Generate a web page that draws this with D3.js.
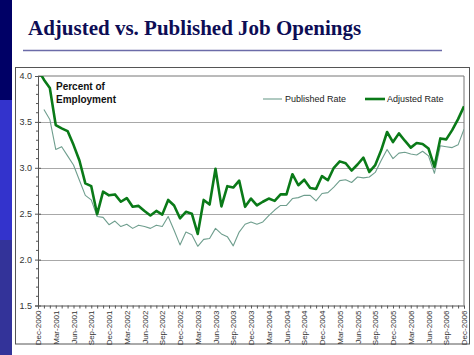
<!DOCTYPE html>
<html><head><meta charset="utf-8">
<script src="https://cdn.jsdelivr.net/npm/d3@7/dist/d3.min.js"></script>
<style>html,body{margin:0;padding:0;background:#fff;}svg{display:block;}</style>
</head><body>
<svg id="c" width="474" height="355"></svg>
<script>
const months = ["Dec-2000","Jan-2001","Feb-2001","Mar-2001","Apr-2001","May-2001","Jun-2001","Jul-2001","Aug-2001","Sep-2001","Oct-2001","Nov-2001",
"Dec-2001","Jan-2002","Feb-2002","Mar-2002","Apr-2002","May-2002","Jun-2002","Jul-2002","Aug-2002","Sep-2002","Oct-2002","Nov-2002",
"Dec-2002","Jan-2003","Feb-2003","Mar-2003","Apr-2003","May-2003","Jun-2003","Jul-2003","Aug-2003","Sep-2003","Oct-2003","Nov-2003",
"Dec-2003","Jan-2004","Feb-2004","Mar-2004","Apr-2004","May-2004","Jun-2004","Jul-2004","Aug-2004","Sep-2004","Oct-2004","Nov-2004",
"Dec-2004","Jan-2005","Feb-2005","Mar-2005","Apr-2005","May-2005","Jun-2005","Jul-2005","Aug-2005","Sep-2005","Oct-2005","Nov-2005",
"Dec-2005","Jan-2006","Feb-2006","Mar-2006","Apr-2006","May-2006","Jun-2006","Jul-2006","Aug-2006","Sep-2006","Oct-2006","Nov-2006","Dec-2006"];
const labeledMonths = ["Dec-2000","Mar-2001","Jun-2001","Sep-2001","Dec-2001","Mar-2002","Jun-2002","Sep-2002","Dec-2002","Mar-2003","Jun-2003","Sep-2003",
"Dec-2003","Mar-2004","Jun-2004","Sep-2004","Dec-2004","Mar-2005","Jun-2005","Sep-2005","Dec-2005","Mar-2006","Jun-2006","Sep-2006","Dec-2006"];
const published = [null,3.636,3.527,3.20,3.23,3.13,3.03,2.865,2.70,2.65,2.47,2.46,
2.38,2.42,2.36,2.385,2.34,2.375,2.36,2.34,2.375,2.36,2.47,2.32,
2.16,2.30,2.27,2.145,2.22,2.23,2.34,2.28,2.25,2.15,2.30,2.385,
2.41,2.385,2.41,2.48,2.54,2.59,2.59,2.665,2.675,2.70,2.70,2.64,
2.72,2.73,2.79,2.86,2.87,2.84,2.90,2.89,2.90,2.95,3.08,3.20,
3.10,3.16,3.17,3.15,3.14,3.18,3.13,2.94,3.24,3.23,3.22,3.25,3.42];
const adjusted = [4.07,3.96,3.87,3.465,3.43,3.40,3.25,3.08,2.83,2.80,2.495,2.74,
2.70,2.71,2.63,2.67,2.575,2.585,2.53,2.48,2.53,2.49,2.65,2.59,
2.45,2.52,2.50,2.28,2.65,2.60,2.99,2.58,2.80,2.785,2.86,2.575,
2.665,2.59,2.63,2.665,2.64,2.71,2.71,2.93,2.81,2.87,2.78,2.77,
2.91,2.865,3.00,3.07,3.05,2.97,3.036,3.11,2.955,3.03,3.19,3.39,
3.28,3.375,3.295,3.22,3.27,3.26,3.21,3.01,3.32,3.31,3.41,3.53,3.67];
const yTicks = [1.5,2.0,2.5,3.0,3.5,4.0];
const gridVals = [2.0,2.5,3.0,3.5];

const svg = d3.select("#c");
const font = "Liberation Sans, Arial, sans-serif";

// slide decoration
svg.append("rect").attr("x",0).attr("y",0).attr("width",12).attr("height",100).attr("fill","#000066");
svg.append("rect").attr("x",0).attr("y",100).attr("width",12).attr("height",140).attr("fill","#3333cc");
svg.append("rect").attr("x",0).attr("y",240).attr("width",12).attr("height",115).attr("fill","#333399");

svg.append("text").attr("x",28).attr("y",35)
  .attr("font-family","Liberation Serif, 'Times New Roman', serif").attr("font-weight","bold")
  .attr("font-size",21).attr("fill","#0d0d55").text("Adjusted vs. Published Job Openings");
svg.append("line").attr("x1",23).attr("x2",442).attr("y1",50.5).attr("y2",50.5)
  .attr("stroke","#6b6ba8").attr("stroke-width",1.3);

// chart frame
svg.append("rect").attr("x",15.5).attr("y",67.5).attr("width",454).attr("height",276.5)
  .attr("fill","#fff").attr("stroke","#555").attr("stroke-width",1);

const x = d3.scalePoint().domain(months).range([38,464]);
const y = d3.scaleLinear().domain([1.5,4.0]).range([305.5,76]);

// grid
svg.append("g").selectAll("line").data(gridVals).join("line")
  .attr("x1",38).attr("x2",464).attr("y1",d=>Math.round(y(d))+0.5).attr("y2",d=>Math.round(y(d))+0.5)
  .attr("stroke","#a8a8a8").attr("stroke-width",1);
// plot border top/right
svg.append("path").attr("d",`M38,${y(4)}H${464}V${y(1.5)}`).attr("fill","none").attr("stroke","#777").attr("stroke-width",1);

// y axis
const yAxis = d3.axisLeft(y).tickValues(yTicks).tickFormat(d3.format(".1f")).tickSize(3).tickPadding(3);
const gy = svg.append("g").attr("transform","translate(38,0)").call(yAxis);
gy.select(".domain").attr("stroke","#555");
gy.selectAll(".tick line").attr("stroke","#555").attr("x2",-3).attr("x1",3);
gy.selectAll("text").attr("font-family",font).attr("font-size",9).attr("fill","#333");
const minor = d3.range(15,41).map(v=>v/10).filter(v=>!yTicks.some(t=>Math.abs(t-v)<1e-9));
svg.append("g").selectAll("line").data(minor).join("line")
  .attr("x1",36).attr("x2",38).attr("y1",d=>y(d)).attr("y2",d=>y(d)).attr("stroke","#555");

// x axis
const xAxis = d3.axisBottom(x).tickSize(3).tickFormat(d=>labeledMonths.includes(d)?d:"");
const gx = svg.append("g").attr("transform",`translate(0,${y(1.5)})`).call(xAxis);
gx.select(".domain").attr("stroke","#555");
gx.selectAll(".tick line").attr("stroke","#555");
gx.selectAll("text").attr("font-family",font).attr("font-size",8).attr("fill","#333")
  .attr("text-anchor","end").attr("transform","rotate(-90)").attr("x",-5).attr("y",0).attr("dy","0.32em");

// lines
const clip = svg.append("clipPath").attr("id","pc").append("rect").attr("x",38).attr("y",76).attr("width",426).attr("height",229.5);
const line = d3.line().defined(d=>d.v!=null).x(d=>x(d.m)).y(d=>y(d.v));
const pubData = months.map((m,i)=>({m,v:published[i]}));
const adjData = months.map((m,i)=>({m,v:adjusted[i]}));
const lg = svg.append("g").attr("clip-path","url(#pc)");
lg.append("path").datum(pubData).attr("d",line).attr("fill","none").attr("stroke","#6f9e8e").attr("stroke-width",1.1).attr("stroke-linejoin","round");
lg.append("path").datum(adjData).attr("d",line).attr("fill","none").attr("stroke","#0a7a18").attr("stroke-width",2.6).attr("stroke-linejoin","round");

// annotations
svg.append("text").attr("x",56).attr("y",90).attr("font-family",font).attr("font-weight","bold").attr("font-size",10).attr("fill","#111").text("Percent of");
svg.append("text").attr("x",56).attr("y",102.5).attr("font-family",font).attr("font-weight","bold").attr("font-size",10).attr("fill","#111").text("Employment");

// legend
svg.append("line").attr("x1",263).attr("x2",282).attr("y1",99).attr("y2",99).attr("stroke","#6f9e8e").attr("stroke-width",1.1);
svg.append("text").attr("x",285).attr("y",102.2).attr("font-family",font).attr("font-size",9).attr("fill","#222").text("Published Rate");
svg.append("line").attr("x1",365).attr("x2",385).attr("y1",99).attr("y2",99).attr("stroke","#0a7a18").attr("stroke-width",2.6);
svg.append("text").attr("x",387).attr("y",102.2).attr("font-family",font).attr("font-size",9).attr("fill","#222").text("Adjusted Rate");
</script>
</body></html>
